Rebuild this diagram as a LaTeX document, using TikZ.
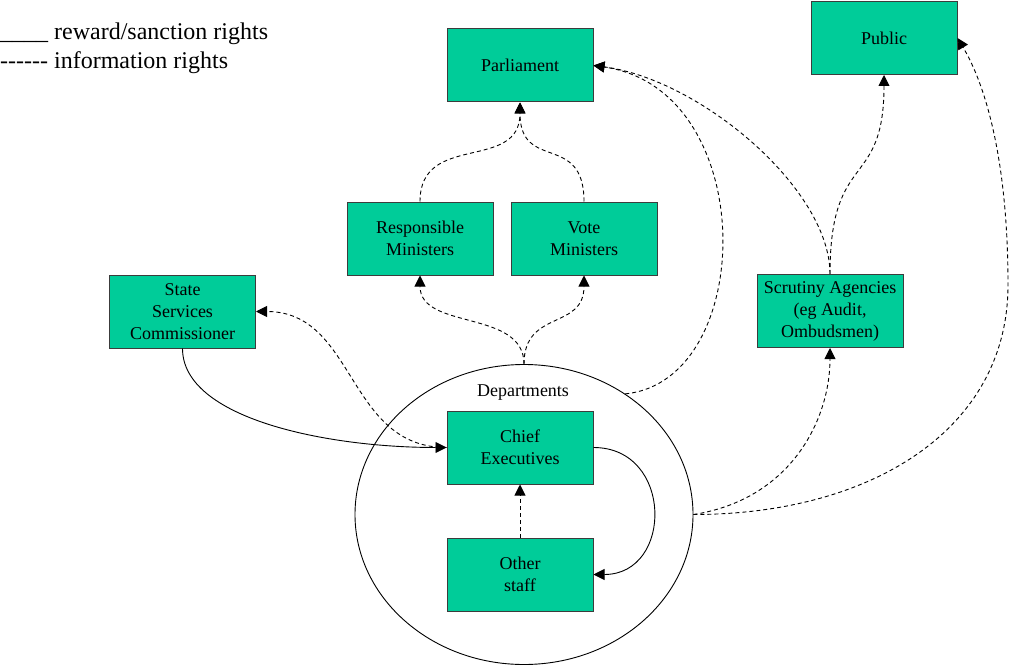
\documentclass[tikz,border=0pt]{standalone}
\usepackage{fontspec}
\setmainfont{Liberation Serif}
\usetikzlibrary{arrows.meta,shapes.geometric}
\definecolor{boxfill}{RGB}{0,204,153}
\definecolor{boxline}{RGB}{60,60,60}
\begin{document}
\begin{tikzpicture}[x=1pt,y=-1pt,
  box/.style={draw=boxline,line width=1pt,fill=boxfill,minimum width=146pt,minimum height=73pt,inner sep=0pt,align=center,font=\fontsize{18pt}{22pt}\selectfont},
  info/.style={draw,line width=0.9pt,dash pattern=on 4pt off 3pt,-{Triangle[length=11pt,width=11pt]}},
  reward/.style={draw,line width=0.9pt,-{Triangle[length=11pt,width=11pt]}},
  legend/.style={anchor=base west,inner sep=0pt,font=\fontsize{24pt}{29pt}\selectfont},
  plain/.style={inner sep=0pt,font=\fontsize{18pt}{22pt}\selectfont}]
\useasboundingbox (0,0) rectangle (1012,666);

% legend
\node[legend] (leg1) at (0,39.5) {\_\_\_\_ reward/sanction rights};
\node[legend] (leg2) at (0,68.5) {-{}-{}-{}-{}-{}- information rights};

% departments ellipse
\node[draw,ellipse,line width=0.9pt,minimum width=338pt,minimum height=300pt,inner sep=0pt] (dep) at (524,514.5) {};
\node[plain] (deplabel) at (523,393) {Departments};

% boxes
\node[box] (parl) at (520,65.5) {Parliament};
\node[box] (pub) at (884,38) {Public};
\node[box] (rm) at (420,238.5) {Responsible\\Ministers};
\node[box] (vm) at (584,238.5) {Vote\\Ministers};
\node[box] (ssc) at (182.5,311.5) {State\\Services\\Commissioner};
\node[box] (sa) at (830,311) {Scrutiny Agencies\\(eg Audit,\\Ombudsmen)};
\node[box] (ce) at (520,447.5) {Chief\\Executives};
\node[box] (os) at (520,574.5) {Other\\staff};

% connectors
\draw[info] (rm.north) .. controls +(0,-70) and +(0,70) .. (parl.south);
\draw[info] (vm.north) .. controls +(0,-70) and +(0,70) .. (parl.south);
\draw[info] (dep.north) .. controls +(0,-55) and +(0,55) .. (rm.south);
\draw[info] (dep.north) .. controls +(0,-55) and +(0,55) .. (vm.south);
\draw[reward] (ssc.south) .. controls +(0,70) and +(-120,0) .. (ce.west);
\draw[info] (ce.west) .. controls +(-100,0) and +(100,0) .. (ssc.east);
\draw[reward] (ce.east) .. controls +(80,0) and +(80,0) .. (os.east);
\draw[info] (os.north) -- (ce.south);
\draw[info] (dep.50) .. controls +(132,-13) and +(167,24) .. (parl.east);
\draw[info] (sa.north) .. controls +(0,-85) and +(107,14) .. (parl.east);
\draw[info] (sa.north) .. controls +(0,-125) and +(0,116) .. (pub.south);
\draw[info] (dep.east) .. controls +(97,-15) and +(0,72) .. (sa.south);
\coordinate (bend) at (1008,285);
\draw[info] (dep.east) .. controls +(177,0) and +(0,145) .. (bend) .. controls +(0,-125) and +(28,47) .. (pub.east);
\end{tikzpicture}
\end{document}
